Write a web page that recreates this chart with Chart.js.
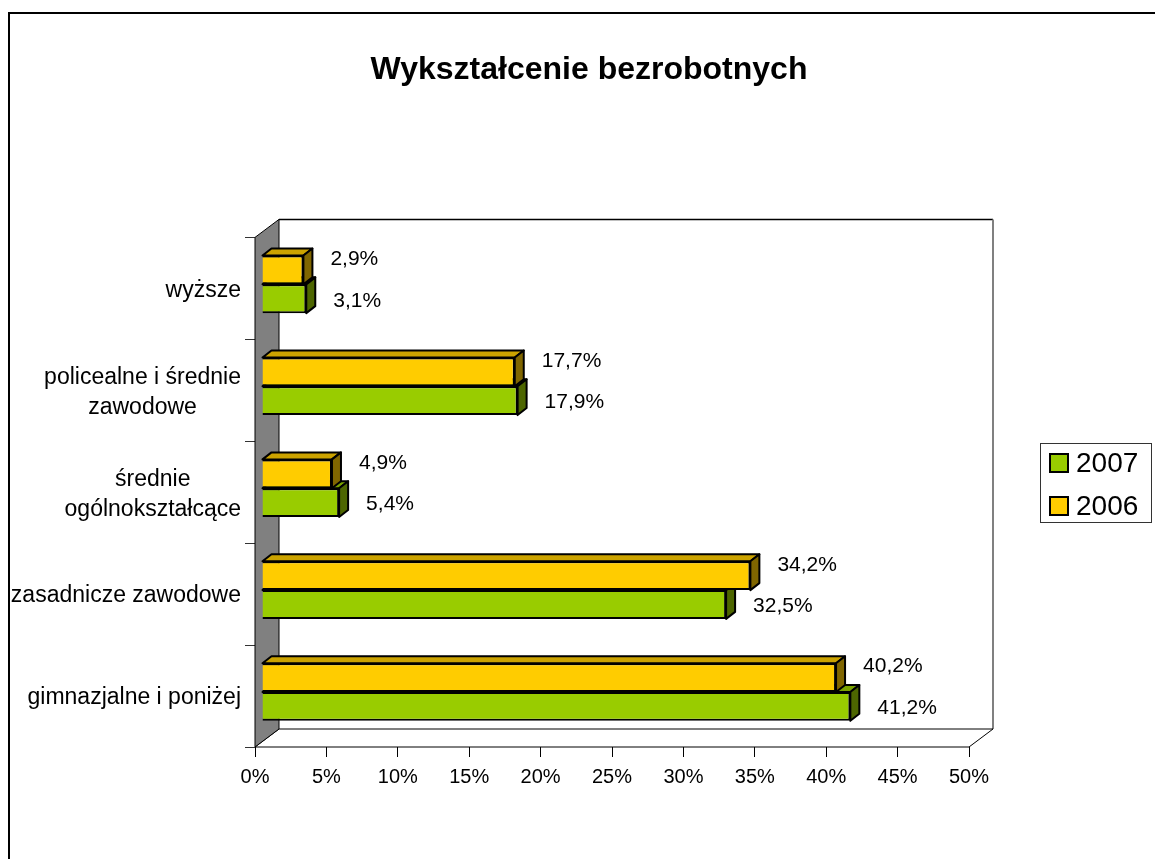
<!DOCTYPE html>
<html>
<head>
<meta charset="utf-8">
<script src="https://cdn.jsdelivr.net/npm/chart.js@4.4.0/dist/chart.umd.min.js"></script>
<style>
  html, body { margin: 0; padding: 0; background: #fff; }
  #chart { display: block; }
</style>
</head>
<body>
<canvas id="chart" width="1155" height="859"></canvas>
<script>
// Data (top to bottom as drawn)
const categories = [
  "wyższe",
  ["policealne i średnie", "zawodowe"],
  ["średnie", "ogólnokształcące"],
  "zasadnicze zawodowe",
  "gimnazjalne i poniżej"
];
const values2006 = [2.9, 17.7, 4.9, 34.2, 40.2];
const values2007 = [3.1, 17.9, 5.4, 32.5, 41.2];
const seriesNames = ["2006", "2007"];
const seriesColors = ["#FFCC00", "#99CC00"];
const axisMax = 50;
const axisStep = 5;

const FONT = 'Arial, "Liberation Sans", sans-serif';
const WALL = { dx: 24, dy: -18 };       // depth of the 3D box
const BAR_SHIFT = { dx: 7, dy: -4 };    // bars sit a bit inside the box
const BAR_DEPTH = { dx: 9, dy: -7 };
const LABEL_DY = [-11, 2];

const fmt = v => v.toFixed(1).replace(".", ",") + "%";

function shade(hex, f) {
  const n = parseInt(hex.slice(1), 16);
  const r = Math.round(((n >> 16) & 255) * f);
  const g = Math.round(((n >> 8) & 255) * f);
  const b = Math.round((n & 255) * f);
  return `rgb(${r},${g},${b})`;
}

function poly(ctx, pts, fill, stroke, lw) {
  ctx.beginPath();
  ctx.moveTo(pts[0][0], pts[0][1]);
  for (let i = 1; i < pts.length; i++) ctx.lineTo(pts[i][0], pts[i][1]);
  ctx.closePath();
  if (fill) { ctx.fillStyle = fill; ctx.fill(); }
  if (stroke) { ctx.strokeStyle = stroke; ctx.lineWidth = lw || 1; ctx.stroke(); }
}

function line(ctx, x1, y1, x2, y2, color, lw) {
  ctx.beginPath();
  ctx.moveTo(x1, y1);
  ctx.lineTo(x2, y2);
  ctx.strokeStyle = color;
  ctx.lineWidth = lw || 1;
  ctx.stroke();
}

const threeD = {
  id: "threeD",
  beforeDraw(chart) {
    const ctx = chart.ctx;
    ctx.save();
    ctx.beginPath();
    ctx.moveTo(9, chart.height);
    ctx.lineTo(9, 13);
    ctx.lineTo(chart.width, 13);
    ctx.strokeStyle = "#000";
    ctx.lineWidth = 2;
    ctx.stroke();
    ctx.restore();
  },
  beforeDatasetsDraw(chart) {
    const ctx = chart.ctx;
    const { left: L, right: R, top: T, bottom: B } = chart.chartArea;
    const dx = WALL.dx, dy = WALL.dy;
    ctx.save();
    // back wall
    ctx.fillStyle = "#fff";
    ctx.fillRect(L + dx, T + dy, R - L, B - T);
    line(ctx, L + dx, T + dy, R + dx, T + dy, "#000", 1.5);
    line(ctx, R + dx, T + dy, R + dx, B + dy, "#808080", 2);
    // floor
    poly(ctx, [[L, B], [R, B], [R + dx, B + dy], [L + dx, B + dy]], "#fff", "#000", 1);
    // side wall
    poly(ctx, [[L, T], [L + dx, T + dy], [L + dx, B + dy], [L, B]], "#808080", "#000", 1);
    ctx.restore();
  },
  beforeDatasetDraw(chart) {
    chart.ctx.save();
    chart.ctx.translate(BAR_SHIFT.dx, BAR_SHIFT.dy);
  },
  afterDatasetDraw(chart, args) {
    const ctx = chart.ctx;
    const color = seriesColors[args.index];
    const bx = BAR_DEPTH.dx, by = BAR_DEPTH.dy;
    ctx.lineJoin = "round";
    args.meta.data.forEach(bar => {
      const p = bar.getProps(["x", "y", "base", "height"], true);
      const l = Math.min(p.base, p.x), r = Math.max(p.base, p.x);
      const t = p.y - p.height / 2, b = p.y + p.height / 2;
      poly(ctx, [[l, t], [l + bx, t + by], [r + bx, t + by], [r, t]], shade(color, 0.8), "#000", 2);
      poly(ctx, [[r, t], [r + bx, t + by], [r + bx, b + by], [r, b]], shade(color, 0.5), "#000", 2);
    });
    ctx.restore();
  },
  afterDatasetsDraw(chart) {
    const ctx = chart.ctx;
    ctx.save();
    ctx.translate(BAR_SHIFT.dx, BAR_SHIFT.dy);
    ctx.font = "21px " + FONT;
    ctx.fillStyle = "#000";
    ctx.textAlign = "left";
    ctx.textBaseline = "middle";
    chart.data.datasets.forEach((ds, di) => {
      chart.getDatasetMeta(di).data.forEach((bar, i) => {
        const p = bar.getProps(["x", "y"], true);
        ctx.fillText(fmt(ds.data[i]), p.x + 27, p.y + LABEL_DY[di]);
      });
    });
    ctx.restore();
  },
  afterDraw(chart) {
    const ctx = chart.ctx;
    const yScale = chart.scales.y;
    ctx.save();
    // category labels: block right aligned, lines centred
    ctx.font = "23px " + FONT;
    ctx.fillStyle = "#000";
    ctx.textAlign = "center";
    ctx.textBaseline = "middle";
    const lh = 30;
    categories.forEach((c, i) => {
      const lines = Array.isArray(c) ? c : [c];
      const w = Math.max(...lines.map(s => ctx.measureText(s).width));
      const cx = 241 - w / 2;
      const cy = yScale.getPixelForValue(i) + 2;
      lines.forEach((s, k) => {
        ctx.fillText(s, cx, cy + (k - (lines.length - 1) / 2) * lh);
      });
    });
    // legend
    const lx = 1040, ly = 443, lw = 111, lhgt = 79;
    ctx.strokeStyle = "#333";
    ctx.lineWidth = 1;
    ctx.strokeRect(lx + 0.5, ly + 0.5, lw, lhgt);
    ctx.font = "28px " + FONT;
    ctx.textAlign = "left";
    [1, 0].forEach((di, k) => {
      const cy = ly + 20 + k * 43;
      ctx.fillStyle = seriesColors[di];
      ctx.fillRect(1050, cy - 9, 18, 18);
      ctx.strokeStyle = "#000";
      ctx.lineWidth = 2;
      ctx.strokeRect(1050, cy - 9, 18, 18);
      ctx.fillStyle = "#000";
      ctx.fillText(chart.data.datasets[di].label, 1076, cy + 1);
    });
    ctx.restore();
  }
};

new Chart(document.getElementById("chart"), {
  type: "bar",
  data: {
    labels: categories,
    datasets: [
      { label: seriesNames[0], data: values2006, backgroundColor: seriesColors[0] },
      { label: seriesNames[1], data: values2007, backgroundColor: seriesColors[1] }
    ]
  },
  options: {
    indexAxis: "y",
    responsive: false,
    animation: false,
    devicePixelRatio: 1,
    layout: { padding: { left: 23, right: 0, top: 0, bottom: 0 } },
    datasets: {
      bar: {
        borderColor: "#000",
        borderWidth: 2,
        categoryPercentage: 0.565,
        barPercentage: 1,
        clip: false
      }
    },
    plugins: {
      legend: { display: false },
      tooltip: { enabled: false },
      title: {
        display: true,
        text: "Wykształcenie bezrobotnych",
        color: "#000",
        font: { family: FONT, size: 32, weight: "bold" },
        padding: { top: 51, bottom: 148 }
      }
    },
    scales: {
      x: {
        type: "linear",
        position: "bottom",
        min: 0,
        max: axisMax,
        ticks: {
          stepSize: axisStep,
          color: "#000",
          font: { family: FONT, size: 20 },
          padding: 8,
          callback: v => v + "%"
        },
        grid: { drawOnChartArea: false, tickLength: 10, color: "#000" },
        border: { display: false },
        afterFit: s => { s.height = 112; }
      },
      y: {
        type: "category",
        position: "left",
        ticks: { display: false },
        grid: { drawOnChartArea: false, tickLength: 10, color: "#333", offset: true },
        border: { display: false },
        afterFit: s => { s.width = 232; }
      },
      r: {
        type: "linear",
        position: "right",
        display: true,
        ticks: { display: false },
        grid: { display: false },
        border: { display: false },
        afterFit: s => { s.width = 186; }
      }
    }
  },
  plugins: [threeD]
});
</script>
</body>
</html>
